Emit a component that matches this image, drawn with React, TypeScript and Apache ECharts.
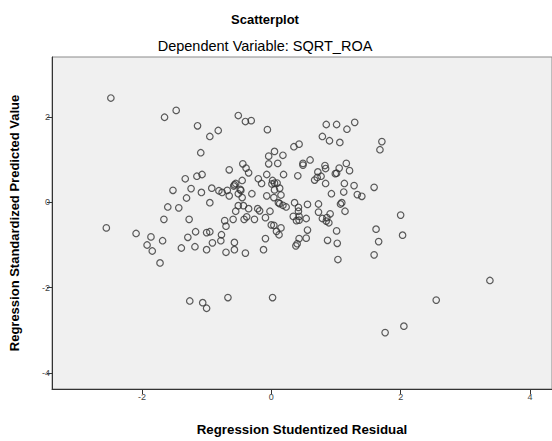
import React, { useEffect, useRef } from "react";
import * as echarts from "echarts";

const chartTitle = "Scatterplot";
const chartSubtitle = "Dependent Variable: SQRT_ROA";
const xAxisTitle = "Regression Studentized Residual";
const yAxisTitle = "Regression Standardized Predicted Value";
const xTicks = [-2, 0, 2, 4];
const yTicks = [-4, -2, 0, 2];

const residuals = [
  -2.48, -1.47, -1.65, -1.14, -1.09, -1.33, -1.15, -1.07, -1.52, -1.24,
  -1.31, -1.08, -1.6, -1.43, -1.66, -1.27, -2.55, -2.09, -1.86, -1.68,
  -1.29, -1.17, -1.92, -1.84, -1.39, -1.18, -1.72, -1.0, -0.95, -1.0,
  -0.91, -0.77, -0.78, -0.72, -0.7, -0.7, -0.57, -0.57, -0.59, -1.26,
  -1.06, -1.0, -0.67, 0.02, 1.76, 2.05, 2.55, 3.38, 1.59, 1.66,
  1.62, 2.03, 2.0, 1.03, 1.02, 0.87, 1.01, 0.56, 0.54, 0.43,
  0.4, 0.38, 0.54, 0.43, 0.43, 0.39, 0.34, 0.15, 0.08, 0.12,
  0.0, 0.04, -0.09, -0.12, -0.09, -0.26, -0.42, -0.38, -0.4, -0.51,
  -0.4, -0.31, -0.82, -0.95, -0.06, 0.35, 0.43, 0.05, -0.04, 0.18,
  -0.04, 0.1, 0.6, 0.49, 0.49, -0.65, -0.44, -0.39, -0.35, -0.2,
  -0.15, -0.07, 0.02, 0.05, 0.01, 0.09, 0.19, 0.41, 0.72, 0.77,
  0.71, 0.67, -0.92, -0.81, -0.76, -0.68, -0.65, -0.57, -0.58, -0.55,
  -0.48, -0.47, -0.45, -0.51, -0.45, -0.3, -0.07, 0.04, 0.05, 0.13,
  0.15, -0.95, 0.18, 0.23, 0.11, 0.13, 0.36, 0.42, 0.42, 0.56,
  0.73, 0.73, -0.51, -0.43, -0.55, -0.35, -0.21, -0.18, -0.02, 0.85,
  1.01, 1.17, 1.29, 0.79, 0.9, 1.06, 1.71, 1.68, 0.83, 0.84,
  1.16, 1.05, 1.21, 0.99, 1.01, 0.84, 1.13, 1.28, 1.59, 1.4,
  1.12, 0.93, 1.33, 1.09, 1.07, 1.14, 0.91, 0.79, 0.86, 0.85,
  0.89,
];

const predicted = [
  2.44, 2.15, 1.99, 1.79, 1.16, 0.55, 0.61, 0.65, 0.28, 0.32,
  0.1, 0.23, -0.11, -0.13, -0.4, -0.4, -0.6, -0.73, -0.81, -0.9,
  -0.82, -0.69, -1.0, -1.14, -1.07, -1.04, -1.42, -0.71, -0.69, -1.11,
  -0.95, -0.76, -0.9, -0.43, -0.56, -1.17, -0.94, -1.11, -0.4, -2.31,
  -2.35, -2.48, -2.23, -2.23, -3.05, -2.9, -2.29, -1.83, -1.23, -0.92,
  -0.63, -0.77, -0.3, -1.34, -0.96, -0.89, -0.67, -0.65, -0.84, -0.85,
  -0.97, -1.02, -0.38, -0.33, -0.42, -0.43, -0.33, -0.6, -0.68, -0.76,
  -0.53, -0.54, -0.85, -1.11, -0.36, -0.4, -0.4, -0.34, -1.19, 2.03,
  1.89, 1.91, 1.68, 1.54, 1.7, 1.3, 1.36, 1.19, 1.08, 1.1,
  0.9, 0.91, 0.99, 0.91, 0.87, 0.76, 0.9, 0.8, 0.69, 0.55,
  0.44, 0.65, 0.51, 0.45, 0.43, 0.45, 0.65, 0.62, 0.71, 0.61,
  0.58, 0.52, 0.33, 0.27, 0.23, 0.28, 0.15, 0.41, 0.38, 0.44,
  0.3, 0.28, 0.51, 0.2, 0.11, 0.2, 0.15, 0.11, 0.29, 0.33,
  0.17, -0.01, -0.07, -0.11, -0.01, -0.03, -0.01, -0.12, -0.21, -0.05,
  -0.04, -0.23, -0.08, -0.08, -0.21, -0.15, -0.15, -0.2, -0.21, 1.82,
  1.82, 1.71, 1.87, 1.54, 1.44, 1.4, 1.42, 1.23, 0.86, 0.79,
  0.91, 0.8, 0.74, 0.67, 0.68, 0.44, 0.44, 0.39, 0.35, 0.14,
  0.24, 0.2, 0.18, -0.01, -0.04, -0.21, -0.27, -0.38, -0.36, -0.44,
  -0.48,
];

export default function App() {
  const ref = useRef<HTMLDivElement>(null);
  useEffect(() => {
    if (!ref.current) return;
    const chart = echarts.init(ref.current, null, { renderer: "svg" });
    const points = residuals.map((x, i) => [x, predicted[i]]);
    const font = "'Liberation Sans', Arial, sans-serif";
    chart.setOption({
      animation: false,
      backgroundColor: "#ffffff",
      textStyle: { fontFamily: font },
      grid: {
        left: 48,
        right: -1,
        top: 57,
        bottom: 42,
        show: true,
        backgroundColor: "#f0f0f0",
        borderColor: "#8a8a8a",
        borderWidth: 1,
      },
      graphic: [
        {
          type: "text",
          x: 265,
          y: 19,
          style: {
            text: chartTitle,
            fontFamily: font,
            fontSize: 13,
            fontWeight: "bold",
            fill: "#000",
            textAlign: "center",
            textVerticalAlign: "middle",
          },
        },
        {
          type: "text",
          x: 265,
          y: 46,
          style: {
            text: chartSubtitle,
            fontFamily: font,
            fontSize: 14.5,
            fill: "#000",
            textAlign: "center",
            textVerticalAlign: "middle",
          },
        },
      ],
      xAxis: {
        type: "value",
        min: -3.39,
        max: 4.34,
        name: xAxisTitle,
        nameLocation: "middle",
        nameGap: 34,
        nameTextStyle: { fontSize: 13.3, fontWeight: "bold", color: "#000", fontFamily: font },
        splitLine: { show: false },
        axisLine: { show: true, onZero: false, lineStyle: { color: "#333", width: 1 } },
        axisTick: {
          show: true,
          length: 5,
          customValues: xTicks,
          lineStyle: { color: "#333" },
        },
        axisLabel: {
          customValues: xTicks,
          fontSize: 9,
          color: "#444",
          margin: 3,
          fontFamily: font,
        },
      },
      yAxis: {
        type: "value",
        min: -4.37,
        max: 3.4,
        name: yAxisTitle,
        nameLocation: "middle",
        nameRotate: 90,
        nameGap: 31,
        nameTextStyle: { fontSize: 13, fontWeight: "bold", color: "#000", fontFamily: font },
        splitLine: { show: false },
        axisLine: { show: true, onZero: false, lineStyle: { color: "#333", width: 1 } },
        axisTick: {
          show: true,
          length: 5,
          customValues: yTicks,
          lineStyle: { color: "#333" },
        },
        axisLabel: {
          customValues: yTicks,
          fontSize: 9,
          color: "#444",
          margin: 2,
          fontFamily: font,
        },
      },
      series: [
        {
          type: "scatter",
          data: points,
          symbol: "circle",
          symbolSize: 6.5,
          itemStyle: {
            color: "rgba(0,0,0,0)",
            borderColor: "#333",
            borderWidth: 1.2,
          },
        },
      ],
    });
    return () => chart.dispose();
  }, []);
  return (
    <div
      ref={ref}
      style={{ position: "fixed", left: 0, top: 0, width: 552, height: 441 }}
    />
  );
}
